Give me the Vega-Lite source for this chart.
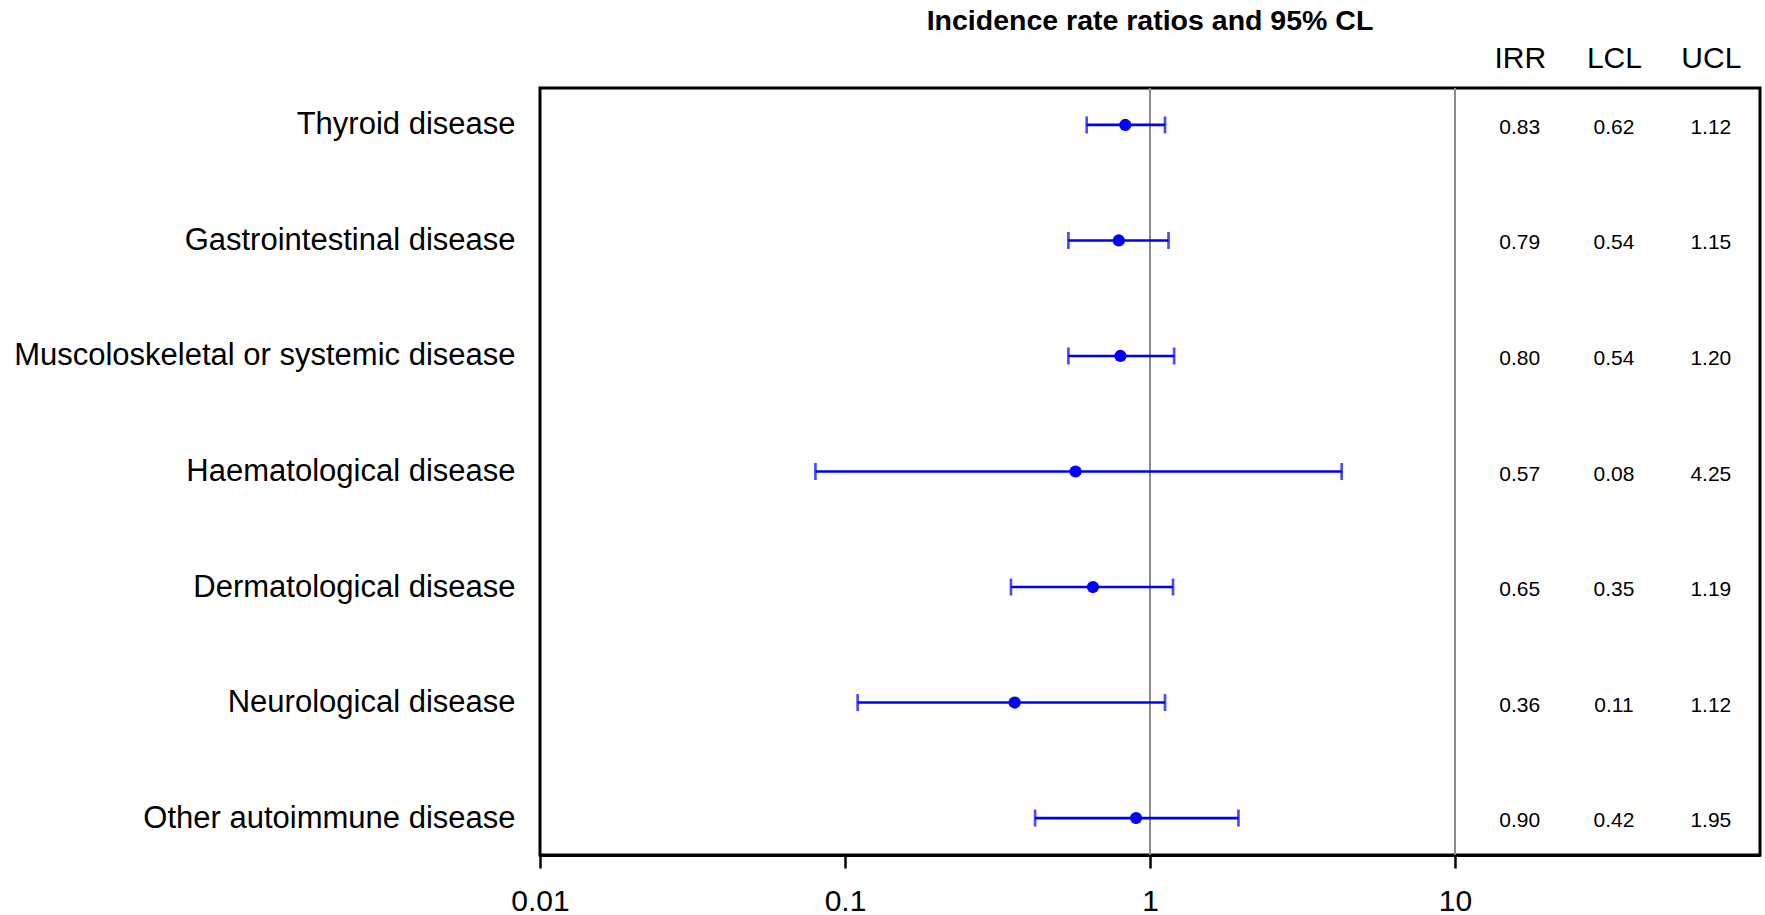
{
  "$schema": "https://vega.github.io/schema/vega-lite/v6.json",
  "width": 1220,
  "height": 767,
  "autosize": {"type": "none"},
  "padding": {"left": 540, "top": 88, "right": 5, "bottom": 60},
  "background": "white",
  "config": {
    "font": "Liberation Sans",
    "view": {"stroke": "black", "strokeWidth": 3},
    "axis": {"grid": false}
  },
  "title": {
    "text": "Incidence rate ratios and 95% CL",
    "fontSize": 28.5,
    "fontWeight": "bold",
    "font": "Liberation Sans",
    "color": "black",
    "anchor": "middle",
    "frame": "group",
    "offset": 8
  },
  "datasets": {
    "rows": [
      {"label": "Thyroid disease", "irr": 0.83, "lcl": 0.62, "ucl": 1.12},
      {"label": "Gastrointestinal disease", "irr": 0.79, "lcl": 0.54, "ucl": 1.15},
      {"label": "Muscoloskeletal or systemic disease", "irr": 0.80, "lcl": 0.54, "ucl": 1.20},
      {"label": "Haematological disease", "irr": 0.57, "lcl": 0.08, "ucl": 4.25},
      {"label": "Dermatological disease", "irr": 0.65, "lcl": 0.35, "ucl": 1.19},
      {"label": "Neurological disease", "irr": 0.36, "lcl": 0.11, "ucl": 1.12},
      {"label": "Other autoimmune disease", "irr": 0.90, "lcl": 0.42, "ucl": 1.95}
    ],
    "refs": [{"ref": 1}, {"ref": 10}]
  },
  "layer": [
    {
      "data": {"name": "refs"},
      "mark": {"type": "rule", "color": "#8c8c8c", "strokeWidth": 2},
      "encoding": {
        "x": {
          "field": "ref",
          "type": "quantitative",
          "scale": {"type": "log", "domain": [0.01, 100], "nice": false},
          "axis": {
            "orient": "top",
            "values": [16.3, 33.2, 69],
            "labelExpr": "datum.value < 20 ? 'IRR' : (datum.value < 50 ? 'LCL' : 'UCL')",
            "ticks": false,
            "domain": false,
            "labelFontSize": 30,
            "labelColor": "black",
            "labelPadding": 21,
            "labelBaseline": "alphabetic",
            "labelOverlap": false,
            "labelFlush": false,
            "title": null
          }
        }
      }
    },
    {
      "data": {"name": "rows"},
      "mark": {"type": "rule", "color": "#0000ff", "strokeWidth": 2.7},
      "encoding": {
        "y": {
          "field": "label",
          "type": "nominal",
          "sort": null,
          "scale": {"type": "point", "padding": 0.32},
          "axis": {
            "title": null,
            "ticks": false,
            "domain": false,
            "labelFontSize": 31,
            "labelColor": "black",
            "labelPadding": 25,
            "labelLimit": 0
          }
        },
        "x": {
          "field": "lcl",
          "type": "quantitative",
          "axis": {
            "orient": "bottom",
            "values": [0.01, 0.1, 1, 10],
            "format": "~g",
            "labelFlush": false,
            "labelOverlap": false,
            "tickSize": 13,
            "tickWidth": 2.5,
            "tickColor": "black",
            "domainColor": "black",
            "domainWidth": 3,
            "labelFontSize": 30,
            "labelPadding": 18,
            "labelColor": "black",
            "title": null
          }
        },
        "x2": {"field": "ucl"}
      }
    },
    {
      "data": {"name": "rows"},
      "mark": {"type": "tick", "orient": "vertical", "color": "#0000ff", "size": 17, "thickness": 2.7},
      "encoding": {
        "y": {"field": "label", "type": "nominal", "sort": null},
        "x": {"field": "lcl", "type": "quantitative", "axis": null}
      }
    },
    {
      "data": {"name": "rows"},
      "mark": {"type": "tick", "orient": "vertical", "color": "#0000ff", "size": 17, "thickness": 2.7},
      "encoding": {
        "y": {"field": "label", "type": "nominal", "sort": null},
        "x": {"field": "ucl", "type": "quantitative", "axis": null}
      }
    },
    {
      "data": {"name": "rows"},
      "mark": {"type": "circle", "color": "#0000ff", "size": 150, "opacity": 1},
      "encoding": {
        "y": {"field": "label", "type": "nominal", "sort": null},
        "x": {"field": "irr", "type": "quantitative", "axis": null}
      }
    },
    {
      "data": {"name": "rows"},
      "mark": {"type": "text", "fontSize": 21, "color": "black", "align": "center", "baseline": "middle", "dy": 3},
      "encoding": {
        "y": {"field": "label", "type": "nominal", "sort": null},
        "x": {"datum": 16.3, "type": "quantitative", "axis": null},
        "text": {"field": "irr", "type": "quantitative", "format": ".2f"}
      }
    },
    {
      "data": {"name": "rows"},
      "mark": {"type": "text", "fontSize": 21, "color": "black", "align": "center", "baseline": "middle", "dy": 3},
      "encoding": {
        "y": {"field": "label", "type": "nominal", "sort": null},
        "x": {"datum": 33.2, "type": "quantitative", "axis": null},
        "text": {"field": "lcl", "type": "quantitative", "format": ".2f"}
      }
    },
    {
      "data": {"name": "rows"},
      "mark": {"type": "text", "fontSize": 21, "color": "black", "align": "center", "baseline": "middle", "dy": 3},
      "encoding": {
        "y": {"field": "label", "type": "nominal", "sort": null},
        "x": {"datum": 69, "type": "quantitative", "axis": null},
        "text": {"field": "ucl", "type": "quantitative", "format": ".2f"}
      }
    }
  ],
  "resolve": {"axis": {"x": "independent"}}
}
